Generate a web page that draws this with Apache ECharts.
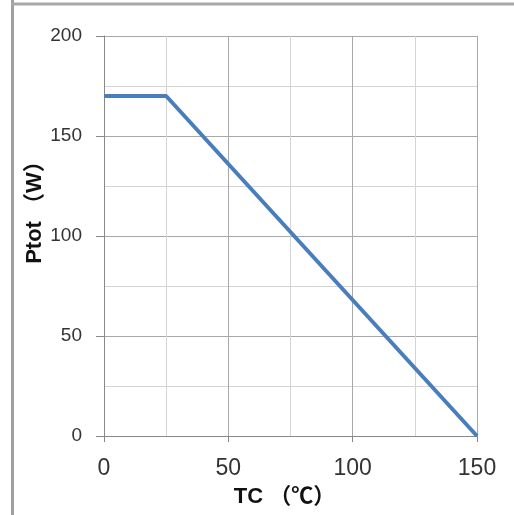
<!DOCTYPE html>
<html><head><meta charset="utf-8">
<script src="https://cdn.jsdelivr.net/npm/echarts@6/dist/echarts.min.js"></script>
<style>html,body{margin:0;padding:0;background:#fff}#c{width:514px;height:515px}</style>
</head><body><div id="c"></div>
<script>
const tcValues = [0, 25, 150];
const ptotValues = [170, 170, 0];
const xTicks = [0, 50, 100, 150];
const yTicks = [0, 50, 100, 150, 200];

const chart = echarts.init(document.getElementById('c'));
chart.setOption({
  animation: false,
  backgroundColor: '#fff',
  grid: {left: 104, right: 37, top: 36, bottom: 79, containLabel: false, outerBoundsMode: 'none'},
  graphic: [
    {type: 'line', shape: {x1: 12.5, y1: 0, x2: 12.5, y2: 515}, style: {stroke: '#a0a0a0', lineWidth: 3}},
    {type: 'line', shape: {x1: 11, y1: 4, x2: 514, y2: 4}, style: {stroke: '#a8a8a8', lineWidth: 3}}
  ],
  xAxis: {
    type: 'value', min: xTicks[0], max: xTicks[xTicks.length - 1], interval: 50,
    name: 'TC （℃）', nameLocation: 'middle', nameGap: 50,
    nameTextStyle: {fontFamily: 'Liberation Sans, Noto Sans CJK SC', fontWeight: 'bold', fontSize: 22, color: '#111', padding: [0, 12, 0, 0]},
    axisLine: {show: true, lineStyle: {color: '#888', width: 1}},
    axisTick: {show: true, length: 6, inside: false, lineStyle: {color: '#888'}},
    axisLabel: {fontFamily: 'Liberation Sans', fontSize: 23, color: '#333', margin: 21},
    splitLine: {show: true, lineStyle: {color: '#a8a8a8', width: 1}},
    minorTick: {show: false, splitNumber: 2},
    minorSplitLine: {show: true, lineStyle: {color: '#d4d4d4', width: 1}}
  },
  yAxis: {
    type: 'value', min: yTicks[0], max: yTicks[yTicks.length - 1], interval: 50,
    name: 'Ptot （W）', nameLocation: 'middle', nameGap: 58, nameMoveOverlap: false,
    nameTextStyle: {fontFamily: 'Liberation Sans, Noto Sans CJK SC', fontWeight: 'bold', fontSize: 22, color: '#111', padding: [0, 0, 0, 58]},
    axisLine: {show: true, lineStyle: {color: '#888', width: 1}},
    axisTick: {show: true, length: 8, inside: false, lineStyle: {color: '#888'}},
    axisLabel: {fontFamily: 'Liberation Sans', fontSize: 19, color: '#333', margin: 22},
    splitLine: {show: true, lineStyle: {color: '#a8a8a8', width: 1}},
    minorTick: {show: false, splitNumber: 2},
    minorSplitLine: {show: true, lineStyle: {color: '#d4d4d4', width: 1}}
  },
  series: [{
    type: 'line',
    data: tcValues.map((t, i) => [t, ptotValues[i]]),
    showSymbol: false,
    lineStyle: {color: '#4a7ebb', width: 4},
    itemStyle: {color: '#4a7ebb'}
  }]
});
</script></body></html>
